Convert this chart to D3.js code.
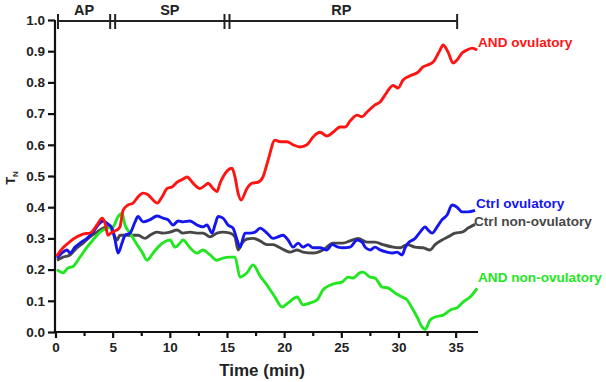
<!DOCTYPE html>
<html>
<head>
<meta charset="utf-8">
<script src="https://cdn.jsdelivr.net/npm/d3@7"></script>
<style>
  body { margin: 0; background: #fff; }
  svg text { font-family: "Liberation Sans", Arial, sans-serif; font-weight: bold; }
</style>
</head>
<body>
<svg id="chart"></svg>
<script>
const width = 606;
const height = 382;

// phases along the top
const phaseNames = ['AP', 'SP', 'RP'];
const phaseBounds = [0, 5, 15, 35];

const yTicks = [0, 0.1, 0.2, 0.3, 0.4, 0.5, 0.6, 0.7, 0.8, 0.9, 1.0];

// AND ovulatory
const redT = [0.1,0.66,1.27,1.88,2.41,3.02,3.63,4.07,4.33,4.59,4.94,5.38,5.64,5.91,6.34,6.78,7.22,7.66,8.09,8.53,8.88,9.32,9.76,10.19,10.63,11.15,11.5,12.03,12.64,13.08,13.34,13.78,14.13,14.39,14.65,15.44,15.7,15.97,16.23,16.75,17.19,17.72,18.15,18.59,19.2,19.64,20.25,20.78,21.39,22.0,22.53,23.14,23.75,24.28,24.89,25.33,25.77,26.38,26.82,27.25,27.95,28.39,28.83,29.53,29.97,30.4,31.19,31.72,32.15,32.59,33.03,33.64,33.9,34.34,34.78,35.13,35.56,36.0,36.44,36.88];
const redV = [0.243,0.27,0.29,0.305,0.314,0.317,0.343,0.365,0.35,0.31,0.32,0.327,0.337,0.39,0.407,0.413,0.433,0.445,0.44,0.423,0.413,0.433,0.46,0.465,0.48,0.49,0.497,0.477,0.46,0.47,0.477,0.46,0.45,0.477,0.497,0.525,0.497,0.445,0.423,0.46,0.477,0.48,0.497,0.55,0.615,0.61,0.61,0.6,0.593,0.6,0.625,0.64,0.628,0.64,0.657,0.657,0.676,0.695,0.69,0.705,0.728,0.737,0.76,0.79,0.782,0.808,0.824,0.833,0.85,0.856,0.865,0.904,0.92,0.897,0.862,0.872,0.894,0.904,0.91,0.904];

// Ctrl ovulatory
const blueT = [0.13,0.66,1.0,1.27,1.71,2.14,2.76,3.28,3.72,4.16,4.59,4.94,5.21,5.47,5.82,6.08,6.52,6.96,7.22,7.66,8.27,8.88,9.41,9.84,10.28,10.72,11.15,11.77,12.38,12.9,13.25,13.69,13.95,14.22,14.65,15.09,15.53,15.88,16.14,16.58,17.02,17.45,17.89,18.5,19.03,19.47,19.9,20.34,20.78,21.22,21.65,22.09,22.53,23.14,23.75,24.19,24.72,25.15,25.77,26.38,26.82,27.08,27.52,27.95,28.39,29.0,29.44,29.88,30.32,30.58,30.84,31.45,31.89,32.33,32.59,32.94,33.38,33.81,34.25,34.69,35.13,35.56,36.09,36.7];
const blueV = [0.237,0.256,0.263,0.253,0.272,0.285,0.3,0.32,0.343,0.356,0.346,0.333,0.295,0.253,0.285,0.31,0.317,0.353,0.37,0.353,0.36,0.372,0.365,0.36,0.343,0.356,0.353,0.356,0.343,0.337,0.343,0.317,0.343,0.37,0.365,0.343,0.333,0.295,0.272,0.317,0.317,0.32,0.333,0.317,0.3,0.305,0.31,0.295,0.272,0.285,0.272,0.28,0.27,0.27,0.263,0.28,0.272,0.27,0.272,0.295,0.288,0.272,0.263,0.272,0.263,0.256,0.253,0.256,0.247,0.27,0.285,0.3,0.32,0.337,0.327,0.317,0.337,0.36,0.375,0.407,0.4,0.385,0.385,0.39];

// Ctrl non-ovulatory
const grayT = [0.13,0.66,1.27,1.88,2.41,3.02,3.63,4.16,4.77,5.03,5.38,5.64,6.26,6.78,7.22,7.83,8.27,8.88,9.41,10.02,10.63,11.15,11.77,12.38,12.9,13.52,14.13,14.65,15.27,15.7,15.97,16.32,16.75,17.28,17.89,18.5,19.03,19.64,20.52,21.13,21.65,22.53,23.4,24.28,25.15,25.77,26.47,27.25,27.95,28.65,29.53,30.14,30.75,31.45,32.15,32.76,33.2,33.81,34.34,34.95,35.56,36.09,36.7];
const grayV = [0.23,0.24,0.247,0.27,0.285,0.305,0.32,0.333,0.337,0.32,0.295,0.31,0.31,0.31,0.31,0.3,0.31,0.32,0.317,0.32,0.327,0.317,0.32,0.317,0.317,0.305,0.317,0.32,0.317,0.305,0.263,0.285,0.298,0.3,0.292,0.28,0.28,0.27,0.256,0.263,0.256,0.253,0.263,0.285,0.285,0.292,0.3,0.288,0.288,0.28,0.272,0.27,0.28,0.272,0.27,0.263,0.28,0.295,0.305,0.317,0.32,0.333,0.345];

// AND non-ovulatory
const greenT = [0.13,0.66,1.09,1.53,2.14,2.76,3.28,3.89,4.51,5.03,5.47,5.82,6.08,6.52,6.96,7.57,8.01,8.53,8.97,9.58,10.02,10.46,10.89,11.15,11.77,12.38,12.9,13.52,14.13,14.65,15.27,15.7,16.14,16.75,17.28,17.89,18.5,19.2,19.82,20.34,21.13,21.65,22.27,22.88,23.4,24.02,24.63,25.06,25.59,26.03,26.64,26.9,27.52,27.95,28.57,29.09,29.7,30.32,30.75,31.19,31.63,32.07,32.33,32.76,33.2,33.9,34.51,35.21,35.65,36.26,36.88];
const greenV = [0.2,0.19,0.205,0.21,0.24,0.272,0.295,0.32,0.333,0.337,0.37,0.38,0.343,0.317,0.29,0.256,0.23,0.253,0.272,0.29,0.295,0.272,0.285,0.295,0.27,0.253,0.263,0.247,0.23,0.237,0.24,0.24,0.176,0.19,0.215,0.18,0.15,0.112,0.08,0.093,0.112,0.087,0.093,0.103,0.135,0.15,0.157,0.16,0.176,0.173,0.19,0.192,0.176,0.173,0.144,0.141,0.125,0.112,0.103,0.077,0.048,0.016,0.008,0.038,0.048,0.054,0.07,0.08,0.096,0.112,0.14];

const series = [
  { name: 'Ctrl non-ovulatory', t: grayT, v: grayV, color: '#474747', label: [474, 226] },
  { name: 'AND non-ovulatory', t: greenT, v: greenV, color: '#22e622', label: [478, 282] },
  { name: 'Ctrl ovulatory', t: blueT, v: blueV, color: '#1515f0', label: [476, 208] },
  { name: 'AND ovulatory', t: redT, v: redV, color: '#ff1414', label: [478, 47] }
];

const svg = d3.select('#chart')
    .attr('width', width)
    .attr('height', height);

const x = d3.scaleLinear().domain([0, 37]).range([55.5, 478.5]);
const y = d3.scaleLinear().domain([0, 1]).range([332, 20]);

// x axis
const xAxis = svg.append('g')
    .attr('transform', 'translate(0,332)')
    .call(d3.axisBottom(x).tickValues(d3.range(0, 37.5, 2.5)).tickSize(5).tickFormat(''));
xAxis.selectAll('.tick line').attr('y2', (d, i) => i % 2 === 0 ? 6 : 4);
xAxis.select('.domain').attr('d', 'M55,0H478');
xAxis.selectAll('.tick').filter((d, i) => i % 2 === 0).append('text')
    .attr('y', 20)
    .attr('fill', '#222')
    .attr('text-anchor', 'middle')
    .style('font-size', '13.5px')
    .text(d => d);

// y axis
const yAxis = svg.append('g')
    .attr('transform', 'translate(55,0)')
    .call(d3.axisLeft(y).tickValues(yTicks).tickSize(7).tickFormat(d3.format('.1f')));
yAxis.select('.domain').attr('d', 'M0,333V20');
yAxis.selectAll('.tick text').attr('x', -10).attr('fill', '#222').style('font-size', '13.5px');

svg.selectAll('.domain, .tick line').attr('stroke', '#111').attr('stroke-width', 2.2);

// axis titles
svg.append('text')
    .attr('x', 262).attr('y', 376)
    .attr('text-anchor', 'middle')
    .attr('fill', '#222')
    .style('font-size', '17px')
    .text('Time (min)');

const yTitle = svg.append('text')
    .attr('transform', 'translate(15,178) rotate(-90)')
    .attr('text-anchor', 'middle')
    .attr('fill', '#222')
    .style('font-size', '13px');
yTitle.append('tspan').text('T');
yTitle.append('tspan').attr('dy', 3).style('font-size', '8px').text('N');

// phase bracket on top
const bracketY = 21;
const br = svg.append('g').attr('stroke', '#222').attr('stroke-width', 2);
br.append('line')
    .attr('x1', x(phaseBounds[0]) + 2).attr('x2', x(phaseBounds[3]) + 1.5)
    .attr('y1', bracketY).attr('y2', bracketY);
const bars = [x(phaseBounds[0]) + 2.5];
phaseBounds.slice(1, 3).forEach(b => { bars.push(x(b) - 2.5, x(b) + 2.5); });
bars.push(x(phaseBounds[3]) + 1.5);
br.selectAll('.bar')
    .data(bars)
    .enter().append('line')
    .attr('x1', d => d).attr('x2', d => d)
    .attr('y1', bracketY - 7).attr('y2', bracketY + 8);
svg.selectAll('.phase')
    .data(phaseNames)
    .enter().append('text')
    .attr('class', 'phase')
    .attr('x', (d, i) => (x(phaseBounds[i]) + x(phaseBounds[i + 1])) / 2)
    .attr('y', 15)
    .attr('text-anchor', 'middle')
    .attr('fill', '#222')
    .style('font-size', '14.5px')
    .text(d => d);

// lines
const line = d3.line()
    .x(d => x(d[0]))
    .y(d => y(d[1]))
    .curve(d3.curveMonotoneX);

svg.selectAll('.series')
    .data(series)
    .enter().append('path')
    .attr('class', 'series')
    .attr('fill', 'none')
    .attr('stroke', d => d.color)
    .attr('stroke-width', 2.9)
    .attr('stroke-linejoin', 'round')
    .attr('d', d => line(d.t.map((t, i) => [t, d.v[i]])));

svg.selectAll('.label')
    .data(series)
    .enter().append('text')
    .attr('class', 'label')
    .attr('x', d => d.label[0])
    .attr('y', d => d.label[1])
    .attr('fill', d => d.color)
    .style('font-size', '13.6px')
    .text(d => d.name);
</script>
</body>
</html>
